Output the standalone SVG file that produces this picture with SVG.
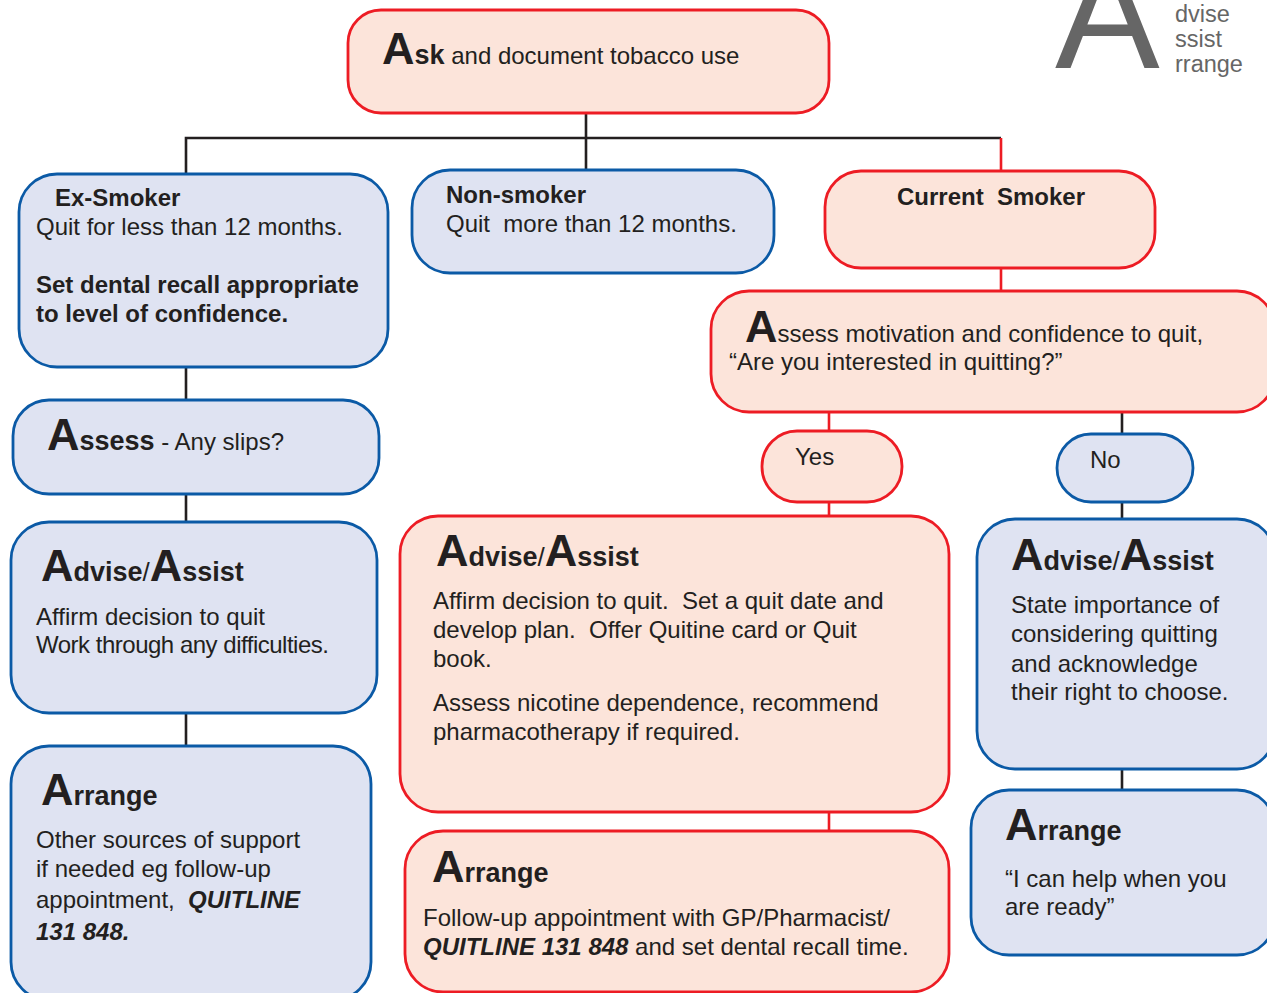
<svg xmlns="http://www.w3.org/2000/svg" width="1267" height="993" viewBox="0 0 1267 993">
<style>
.pk{fill:#fce4da;stroke:#ed1c24;stroke-width:2.8}
.bl{fill:#dfe3f2;stroke:#0b5aa6;stroke-width:2.8}
.cb{fill:none;stroke:#231f20;stroke-width:2.6}
.cr{fill:none;stroke:#ed1c24;stroke-width:2.6}
text{font-family:"Liberation Sans",Arial,sans-serif;fill:#231f20;font-size:24px}
.b{font-weight:bold}
.bi{font-weight:bold;font-style:italic}
.big{font-weight:bold;font-size:45px}
.hd{font-weight:bold;font-size:27px}
.sl{font-size:26px;font-weight:normal}
.logo{fill:#666666}
</style>
<g id="logo">
<text class="logo" x="1055" y="68" style="font-size:157px">A</text>
<text class="logo" x="1175" y="22" style="font-size:23.5px">dvise</text>
<text class="logo" x="1175" y="47" style="font-size:23.5px">ssist</text>
<text class="logo" x="1175" y="72" style="font-size:23.5px">rrange</text>
</g>
<g id="connectors">
<path class="cb" d="M586 113V171M186 174V138H1001"/>
<path class="cr" d="M1001 138V171M1001 268V291M829 412V431M829 502V516M829 812V831"/>
<path class="cb" d="M1122 412V434M1122 502V519M1122 769V790M186 367V400M186 494V522M186 713V746"/>
</g>
<g id="ask">
<rect class="pk" x="348" y="10" width="481" height="103" rx="33"/>
<text x="382" y="64"><tspan class="big">A</tspan><tspan class="hd">sk</tspan> and document tobacco use</text>
</g>
<g id="ex-smoker">
<rect class="bl" x="19" y="174" width="369" height="193" rx="38"/>
<text class="b" x="55" y="206">Ex-Smoker</text>
<text x="36" y="235">Quit for less than 12 months.</text>
<text class="b" x="36" y="293">Set dental recall appropriate</text>
<text class="b" x="36" y="322">to level of confidence.</text>
</g>
<g id="non-smoker">
<rect class="bl" x="412" y="170" width="362" height="103" rx="38"/>
<text class="b" x="446" y="203">Non-smoker</text>
<text x="446" y="232" xml:space="preserve">Quit  more than 12 months.</text>
</g>
<g id="current-smoker">
<rect class="pk" x="825" y="171" width="330" height="97" rx="36"/>
<text class="b" x="897" y="205" xml:space="preserve">Current  Smoker</text>
</g>
<g id="assess-motivation">
<rect class="pk" x="711" y="291" width="564" height="121" rx="38"/>
<text x="745" y="342"><tspan class="big">A</tspan>ssess motivation and confidence to quit,</text>
<text x="729" y="370">“Are you interested in quitting?”</text>
</g>
<g id="yes">
<rect class="pk" x="762" y="431" width="140" height="71" rx="35"/>
<text x="795" y="465">Yes</text>
</g>
<g id="no">
<rect class="bl" x="1057" y="434" width="136" height="68" rx="34"/>
<text x="1090" y="468">No</text>
</g>
<g id="assess-slips">
<rect class="bl" x="13" y="400" width="366" height="94" rx="36"/>
<text x="47" y="450"><tspan class="big">A</tspan><tspan class="hd">ssess</tspan> - Any slips?</text>
</g>
<g id="advise-left">
<rect class="bl" x="11" y="522" width="366" height="191" rx="38"/>
<text x="41" y="581"><tspan class="big">A</tspan><tspan class="hd">dvise</tspan><tspan class="sl">/</tspan><tspan class="big">A</tspan><tspan class="hd">ssist</tspan></text>
<text x="36" y="625">Affirm decision to quit</text>
<text x="36" y="653" textLength="293" lengthAdjust="spacing">Work through any difficulties.</text>
</g>
<g id="arrange-left">
<rect class="bl" x="11" y="746" width="360" height="254" rx="38"/>
<text x="41" y="805"><tspan class="big">A</tspan><tspan class="hd">rrange</tspan></text>
<text x="36" y="848">Other sources of support</text>
<text x="36" y="877">if needed eg follow-up</text>
<text x="36" y="908" xml:space="preserve">appointment,  <tspan class="bi">QUITLINE</tspan></text>
<text class="bi" x="36" y="940">131 848.</text>
</g>
<g id="advise-yes">
<rect class="pk" x="400" y="516" width="549" height="296" rx="38"/>
<text x="436" y="566"><tspan class="big">A</tspan><tspan class="hd">dvise</tspan><tspan class="sl">/</tspan><tspan class="big">A</tspan><tspan class="hd">ssist</tspan></text>
<text x="433" y="609" xml:space="preserve">Affirm decision to quit.  Set a quit date and</text>
<text x="433" y="638" xml:space="preserve">develop plan.  Offer Quitine card or Quit</text>
<text x="433" y="667">book.</text>
<text x="433" y="711">Assess nicotine dependence, recommend</text>
<text x="433" y="740">pharmacotherapy if required.</text>
</g>
<g id="arrange-yes">
<rect class="pk" x="405" y="831" width="544" height="161" rx="38"/>
<text x="432" y="882"><tspan class="big">A</tspan><tspan class="hd">rrange</tspan></text>
<text x="423" y="926">Follow-up appointment with GP/Pharmacist/</text>
<text x="423" y="955"><tspan class="bi">QUITLINE 131 848</tspan> and set dental recall time.</text>
</g>
<g id="advise-no">
<rect class="bl" x="977" y="519" width="298" height="250" rx="38"/>
<text x="1011" y="570"><tspan class="big">A</tspan><tspan class="hd">dvise</tspan><tspan class="sl">/</tspan><tspan class="big">A</tspan><tspan class="hd">ssist</tspan></text>
<text x="1011" y="613">State importance of</text>
<text x="1011" y="642">considering quitting</text>
<text x="1011" y="672">and acknowledge</text>
<text x="1011" y="700">their right to choose.</text>
</g>
<g id="arrange-no">
<rect class="bl" x="971" y="790" width="304" height="165" rx="38"/>
<text x="1005" y="840"><tspan class="big">A</tspan><tspan class="hd">rrange</tspan></text>
<text x="1005" y="887">“I can help when you</text>
<text x="1005" y="915">are ready”</text>
</g>
</svg>
